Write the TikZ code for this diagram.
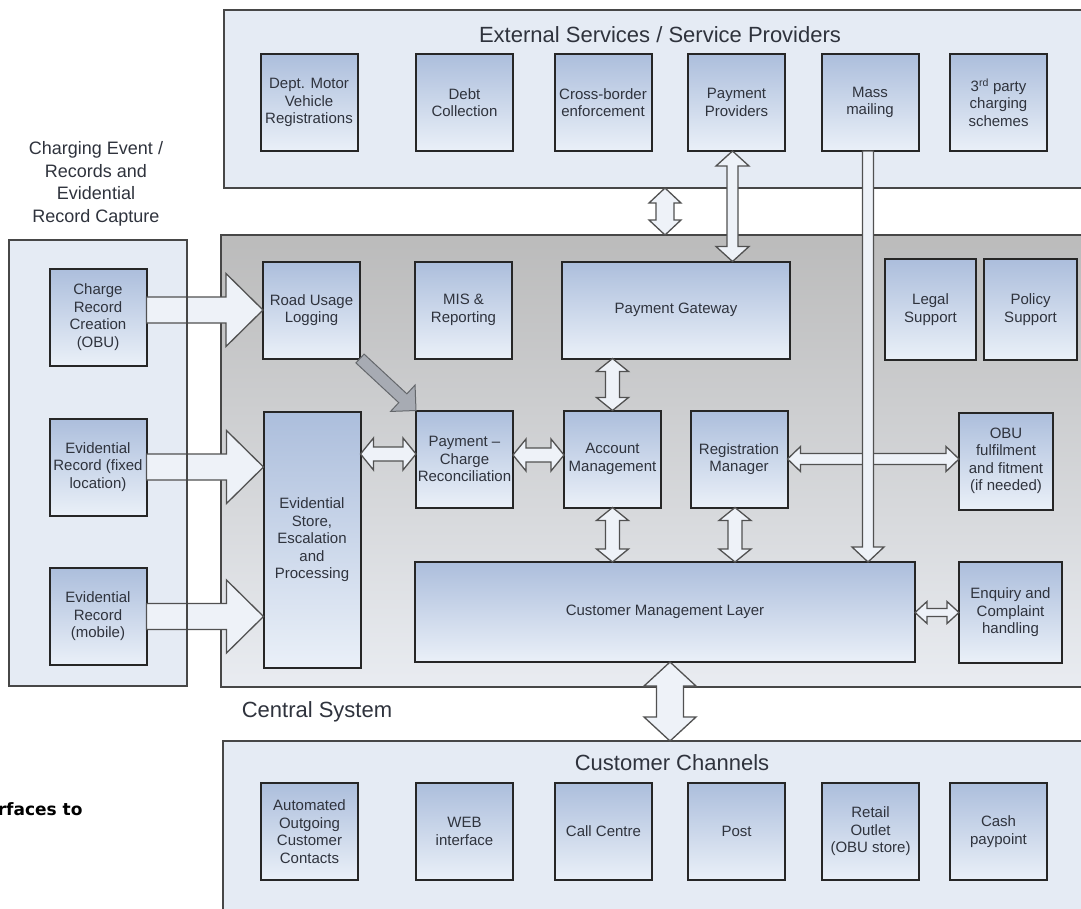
\documentclass[tikz,border=0pt]{standalone}
\usepackage{fontspec}
\setmainfont{Liberation Sans}
\newfontfamily\notefont{DejaVu Sans}
\usetikzlibrary{calc, positioning}
\definecolor{bLine}{HTML}{262626}
\definecolor{bTop}{HTML}{ACBEDC}
\definecolor{bBot}{HTML}{EAF0F8}
\definecolor{pFill}{HTML}{E5EBF4}
\definecolor{cTop}{HTML}{BBBBBB}
\definecolor{cBot}{HTML}{E9ECF1}
\definecolor{aFill}{HTML}{EEF2F8}
\definecolor{tGray}{HTML}{2F333D}
\definecolor{dGray}{HTML}{A7ABB3}

% block arrows: [style]{from}{to}{shaft half}{head half}{head length}
\newcommand{\dblarrow}[6][blockarrow]{%
  \path ($(#2)!#6!(#3)$) coordinate (da1) ($(#3)!#6!(#2)$) coordinate (da2);
  \draw[#1] (#2) -- ($(da1)!#5!90:(#3)$) -- ($(da1)!#4!90:(#3)$)
    -- ($(da2)!#4!-90:(#2)$) -- ($(da2)!#5!-90:(#2)$) -- (#3)
    -- ($(da2)!#5!90:(#2)$) -- ($(da2)!#4!90:(#2)$)
    -- ($(da1)!#4!-90:(#3)$) -- ($(da1)!#5!-90:(#3)$) -- cycle;
}
\newcommand{\sglarrow}[6][blockarrow]{%
  \path ($(#3)!#6!(#2)$) coordinate (sa2);
  \draw[#1] ($(#2)!#4!90:(#3)$) -- ($(sa2)!#4!-90:(#2)$) -- ($(sa2)!#5!-90:(#2)$)
    -- (#3) -- ($(sa2)!#5!90:(#2)$) -- ($(sa2)!#4!90:(#2)$)
    -- ($(#2)!#4!-90:(#3)$) -- cycle;
}

\tikzset{
  box/.style={draw=bLine, line width=2pt, top color=bTop, bottom color=bBot,
    minimum width=97pt, minimum height=97pt, inner sep=1pt, outer sep=0pt,
    align=center, text=tGray, font=\fontsize{15}{17.5}\selectfont},
  panel/.style={draw=bLine!85, line width=2pt, fill=pFill, inner sep=0pt, outer sep=0pt},
  cpanel/.style={draw=bLine!85, line width=2pt, top color=cTop, bottom color=cBot,
    inner sep=0pt, outer sep=0pt},
  blockarrow/.style={draw=bLine!80, line width=1.3pt, fill=aFill},
  greyarrow/.style={draw=dGray!60!black, line width=1pt, fill=dGray},
  heading/.style={text=tGray, font=\fontsize{22}{26}\selectfont},
}

\begin{document}
\begin{tikzpicture}[x=1pt, y=-1pt]
  \path[use as bounding box, fill=white] (0,0) rectangle (1081,908);
  % containers
  \node[panel, minimum width=866pt, minimum height=178pt] (ext) at (657,99) {};
  \node[panel, minimum width=178pt, minimum height=446pt] (lp) at (98,463) {};
  \node[cpanel, minimum width=869pt, minimum height=452pt] (cs) at (655.5,461) {};
  \node[panel, minimum width=867pt, minimum height=174pt] (ch) at (656.5,828) {};
  % titles
  \node[heading] (extT) at (660,35) {External Services / Service Providers};
  \node[heading] (csT) at (317,712) {Central System};
  \node[heading] (chT) at (672,763) {Customer Channels};
  \node[text=tGray, align=center, font=\fontsize{18}{22.5}\selectfont] (lpT) at (96,184)
    {Charging Event /\\Records and\\Evidential\\Record Capture};
  \node[anchor=east, font=\notefont\bfseries\fontsize{17}{20}\selectfont] (note) at (86,809) {rfaces to};
  % external services
  \foreach \nm/\xx/\txt in {dmv/309/{Dept. Motor\\Vehicle\\Registrations},
      debt/464.5/{Debt\\Collection}, xbe/603/{Cross-border\\enforcement},
      payp/736.5/{Payment\\Providers}, mass/870/{Mass\\mailing},
      third/998.5/{3\textsuperscript{rd} party\\charging\\schemes}}
    \node[box] (\nm) at (\xx,102.5) {\txt};
  % customer channels
  \foreach \nm/\xx/\txt in {auto/309.5/{Automated\\Outgoing\\Customer\\Contacts},
      web/464.5/{WEB\\interface}, call/603.5/{Call Centre}, post/736.5/{Post},
      retail/870.5/{Retail\\Outlet\\(OBU store)}, cash/998.5/{Cash\\paypoint}}
    \node[box] (\nm) at (\xx,831.5) {\txt};
  % record capture
  \node[box] (crc) at (98,317) {Charge\\Record\\Creation\\(OBU)};
  \node[box] (erf) at (98,467) {Evidential\\Record (fixed\\location)};
  \node[box] (erm) at (98,616.5) {Evidential\\Record\\(mobile)};
  % central system
  \node[box] (rul) at (311.5,310) {Road Usage\\Logging};
  \node[box] (mis) at (463.5,310) {MIS \&\\Reporting};
  \node[box, minimum width=228pt] (pgw) at (676,310) {Payment Gateway};
  \node[box, minimum width=91pt, minimum height=101pt] (legal) at (930.5,309.5) {Legal\\Support};
  \node[box, minimum width=93pt, minimum height=101pt] (policy) at (1030.5,309.5) {Policy\\Support};
  \node[box, minimum height=256pt] (evs) at (312,540) {Evidential\\Store,\\Escalation\\and\\Processing};
  \node[box] (recon) at (464.5,459) {Payment --\\Charge\\Reconciliation};
  \node[box] (acct) at (612.5,459) {Account\\Management};
  \node[box] (reg) at (739,459) {Registration\\Manager};
  \node[box, minimum width=94pt] (obu) at (1006,461) {OBU\\fulfilment\\and fitment\\(if needed)};
  \node[box, minimum width=500pt, minimum height=100pt] (cml) at (665,612) {Customer Management Layer};
  \node[box, minimum width=103pt, minimum height=101pt] (enq) at (1010.5,612.5) {Enquiry and\\Complaint\\handling};

  % feeds into the central system
  \coordinate (r1) at (crc.east |- rul.west);
  \coordinate (r2) at (erf.east -| evs.west);
  \coordinate (r3) at (erm.east -| evs.west);
  \sglarrow{r1}{rul.west}{13pt}{36.5pt}{37pt}
  \sglarrow{erf.east}{r2}{13pt}{36.5pt}{37pt}
  \sglarrow{erm.east}{r3}{13pt}{36.5pt}{37pt}
  \draw[bLine!85, line width=2pt] (lp.north east) -- (lp.south east);
  \sglarrow[greyarrow]{rul.south east}{recon.north west}{6pt}{18pt}{18pt}

  % links between components
  \coordinate (e1) at ([yshift=5pt]recon.west);
  \coordinate (e0) at (evs.east |- e1);
  \dblarrow{e0}{e1}{7pt}{16pt}{13pt}
  \coordinate (e2) at ([yshift=4pt]recon.east);
  \coordinate (e3) at (acct.west |- e2);
  \dblarrow{e2}{e3}{7pt}{16pt}{13pt}
  \coordinate (e4) at (acct.north |- pgw.south);
  \dblarrow{e4}{acct.north}{7pt}{16pt}{13pt}
  \coordinate (e5) at (acct.south |- cml.north);
  \dblarrow{acct.south}{e5}{7pt}{16pt}{13pt}
  \coordinate (e6) at ([xshift=-4pt]reg.south);
  \coordinate (e7) at (e6 |- cml.north);
  \dblarrow{e6}{e7}{7pt}{16pt}{13pt}
  \coordinate (e9) at (obu.west |- reg.east);
  \dblarrow{reg.east}{e9}{5.5pt}{12.5pt}{13pt}
  \coordinate (e10) at (cml.east |- enq.west);
  \dblarrow{e10}{enq.west}{4pt}{11pt}{12pt}
  \coordinate (e11) at ([xshift=-4pt]payp.south);
  \coordinate (e12) at (e11 |- pgw.north);
  \dblarrow{e11}{e12}{5.5pt}{16.5pt}{15pt}
  \coordinate (e13) at (ext.south -| cml);
  \coordinate (e14) at (cs.north -| cml);
  \dblarrow{e13}{e14}{9pt}{16pt}{15pt}
  \coordinate (e15) at ([xshift=-2pt]mass.south);
  \coordinate (e16) at (e15 |- cml.north);
  \sglarrow{e15}{e16}{5.5pt}{16pt}{15pt}
  \coordinate (e17) at ([xshift=5pt]cml.south);
  \coordinate (e18) at (e17 |- ch.north);
  \dblarrow{e17}{e18}{13.5pt}{26pt}{24pt}
\end{tikzpicture}
\end{document}
